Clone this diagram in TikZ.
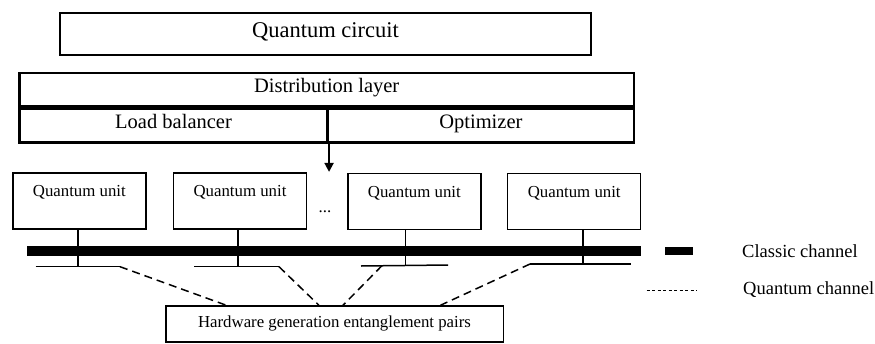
\documentclass[tikz,border=0pt]{standalone}
\usepackage{fontspec}
\setmainfont{Liberation Serif}
\usetikzlibrary{arrows.meta, calc, positioning}
\definecolor{ink}{HTML}{000000}
\tikzset{
  >={Triangle[length=9pt, width=9pt]},
  every picture/.style={line join=miter},
  layerbox/.style={draw=ink, line width=2.6pt, minimum height=33pt, inner sep=0pt,
                   text height=0.8em, text depth=0.16em,
                   font=\fontsize{20.5}{22}\selectfont},
  unitbox/.style={draw=ink, line width=1.5pt, minimum width=133pt, inner xsep=0pt,
                  inner ysep=0pt, text height=23.7pt, text depth=32.3pt,
                  font=\fontsize{16.8}{18}\selectfont},
  hwbox/.style={draw=ink, line width=1.6pt, inner sep=0pt,
                text height=0.8em, text depth=0.16em,
                font=\fontsize{16.8}{18}\selectfont},
  classic/.style={fill=ink, inner sep=0pt},
  tap/.style={draw=ink, line width=1.5pt},
  qchan/.style={draw=ink, line width=1.5pt, dash pattern=on 8pt off 5pt},
  keydash/.style={draw=ink, line width=0.8pt, dash pattern=on 3pt off 2.5pt},
  legend/.style={anchor=west, inner sep=0pt, font=\fontsize{18.5}{20}\selectfont},
}

\begin{document}
\begin{tikzpicture}[x=1pt, y=-1pt]
  \useasboundingbox (0,0) rectangle (875,343);
  % upper layers
  \node[layerbox, minimum width=531pt, minimum height=42pt,
        font=\fontsize{22.5}{24}\selectfont] (qc) at (325.5,34) {Quantum circuit};
  \node[layerbox, minimum width=614.7pt] (dist) at (326.7,89.5) {Distribution layer};
  \node[layerbox, minimum width=308.4pt, minimum height=34pt, anchor=north west] (lb)
        at (dist.south west) {Load balancer};
  \node[layerbox, minimum width=306.3pt, minimum height=34pt, anchor=north east] (opt)
        at (dist.south east) {Optimizer};
  \coordinate (drop) at ($(lb.south east)+(0,28)$);
  \draw[->, line width=2pt] (lb.south east) -- (drop);
  % quantum units
  \node[unitbox] (u1) at (79.3,201) {Quantum unit};
  \node[unitbox] (u2) at (240,201) {Quantum unit};
  \node[unitbox] (u3) at (414.3,201.5) {Quantum unit};
  \node[unitbox] (u4) at (574.2,201.5) {Quantum unit};
  \node[anchor=base, inner sep=0pt, font=\fontsize{16.8}{18}\selectfont] (dots)
        at (325,212.7) {...};
  % classic channel
  \node[classic, minimum width=614pt, minimum height=10pt] (bus) at (333.7,250.7) {};
  % quantum channel taps
  \coordinate (t1a) at (35.7,266.7);  \coordinate (t1b) at (120,266.7);
  \coordinate (t2a) at (194,266.7);   \coordinate (t2b) at (279,266.7);
  \coordinate (t3a) at (361,266);     \coordinate (t3b) at (448,265);
  \coordinate (t4a) at (530,264);     \coordinate (t4b) at (631,264);
  \foreach \i/\dx in {1/-1.3, 2/-2, 3/-8.6, 4/8.8}
    \draw[tap] ($(u\i.south)+(\dx,0)$) coordinate (s\i) -- (s\i |- t\i a);
  \foreach \i in {1,...,4}
    \draw[tap] (t\i a) -- (t\i b);
  % entanglement source
  \node[hwbox, minimum width=337.6pt, minimum height=35.7pt] (hw) at (334.5,323.9)
        {Hardware generation entanglement pairs};
  \draw[qchan] (t1b) -- ($(hw.north west)!0.181!(hw.north east)$);
  \draw[qchan] (t2b) -- ($(hw.north west)!0.454!(hw.north east)$);
  \draw[qchan] ($(t3a)!0.24!(t3b)$) -- ($(hw.north west)!0.525!(hw.north east)$);
  \draw[qchan] (t4a) -- ($(hw.north west)!0.8125!(hw.north east)$);
  % legend
  \node[classic, minimum width=27.7pt, minimum height=8pt] (keyc) at (678.9,251) {};
  \node[legend, right=49pt of keyc] (lc) {Classic channel};
  \coordinate (kq1) at (646.7,290);
  \coordinate (kq2) at (697,290);
  \draw[keydash] (kq1) -- (kq2);
  \node[legend] (lq) at (743,290) {Quantum channel};
\end{tikzpicture}
\end{document}
